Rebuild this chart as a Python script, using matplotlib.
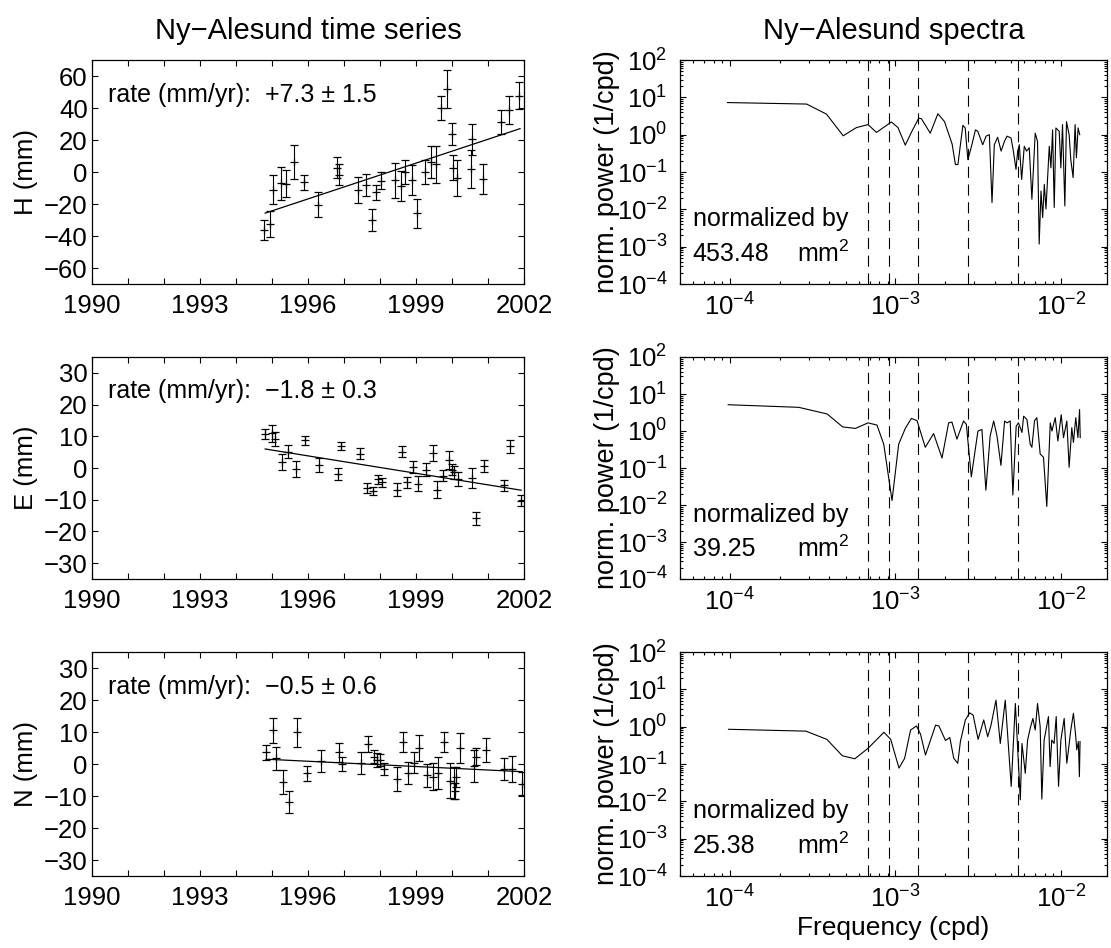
import numpy as np
import matplotlib
matplotlib.use('Agg')
import matplotlib.pyplot as plt
from matplotlib.ticker import FixedLocator, NullFormatter, LogLocator, LogFormatterSciNotation

plt.rcParams['font.family'] = ['Liberation Sans', 'DejaVu Sans']
plt.rcParams['mathtext.fontset'] = 'custom'
plt.rcParams['mathtext.rm'] = 'Liberation Sans'
plt.rcParams['mathtext.it'] = 'Liberation Sans:italic'
plt.rcParams['mathtext.bf'] = 'Liberation Sans:bold'
plt.rcParams['mathtext.default'] = 'regular'

# ---------------- time series data ----------------
H_years = [1994.79, 1994.94, 1995.04, 1995.24, 1995.39, 1995.62, 1995.90, 1996.29, 1996.80, 1996.87,
           1997.40, 1997.60, 1997.79, 1997.89, 1998.02, 1998.42, 1998.57, 1998.69, 1998.90, 1999.02,
           1999.25, 1999.42, 1999.55, 1999.69, 1999.85, 1999.99, 2000.04, 2000.13, 2000.53, 2000.56,
           2000.85, 2001.36, 2001.58, 2001.86]
H_vals = [-36.2, -32.5, -11.1, -6.9, -7.3, 6.1, -6.5, -20.5, 2.6, -1.6,
          -11.5, -7.9, -29.9, -12.7, -5.4, -5.2, -9.0, -0.2, -4.8, -25.7,
          -0.2, 6.1, 4.7, 40.3, 51.8, 24.0, 2.6, -3.7, 1.9, 20.4,
          -4.4, 31.3, 38.6, 47.6]
H_errs = [6.3, 8.4, 9.1, 10.3, 8.4, 10.5, 4.7, 7.8, 6.6, 6.8,
          8.1, 6.8, 6.7, 4.7, 5.2, 11.1, 9.4, 7.5, 9.4, 9.1,
          7.6, 10.0, 11.3, 7.5, 11.8, 6.9, 7.9, 11.3, 11.8, 9.7,
          9.4, 7.7, 8.9, 8.4]
H_trend_years = [1994.81, 2001.89]
H_trend_vals = [-25.7, 27.1]

E_years = [1994.81, 1994.99, 1995.08, 1995.29, 1995.44, 1995.66, 1995.92, 1996.31, 1996.84, 1996.92,
           1997.44, 1997.65, 1997.81, 1997.94, 1998.05, 1998.46, 1998.62, 1998.74, 1998.93, 1999.06,
           1999.28, 1999.46, 1999.59, 1999.74, 1999.92, 1999.99, 2000.06, 2000.18, 2000.56, 2000.66,
           2000.90, 2001.44, 2001.61, 2001.92]
E_vals = [10.8, 11.0, 9.1, 1.9, 5.2, -0.3, 8.7, 1.0, -1.9, 7.0,
          4.5, -6.3, -7.3, -3.5, -4.5, -6.8, 5.2, -4.5, 0.3, -5.0,
          -0.5, 4.7, -6.8, -2.4, 2.6, -0.5, -1.4, -3.5, -3.1, -15.9,
          0.7, -5.4, 6.8, -10.3]
E_errs = [1.5, 2.7, 2.1, 2.5, 2.2, 2.5, 1.3, 2.2, 2.0, 1.3,
          1.8, 1.5, 1.3, 1.4, 1.4, 2.1, 1.7, 1.8, 1.8, 2.4,
          2.1, 2.4, 2.6, 1.8, 2.8, 1.7, 2.0, 2.1, 3.1, 2.0,
          1.9, 1.7, 2.0, 1.8]
E_trend_years = [1994.81, 2001.92]
E_trend_vals = [6.0, -7.0]

N_years = [1994.83, 1995.02, 1995.11, 1995.31, 1995.47, 1995.69, 1995.98, 1996.35, 1996.87, 1996.95,
           1997.47, 1997.68, 1997.84, 1997.93, 1998.00, 1998.12, 1998.48, 1998.65, 1998.79, 1998.95,
           1999.09, 1999.31, 1999.48, 1999.62, 1999.78, 1999.94, 2000.06, 2000.08, 2000.11, 2000.22,
           2000.61, 2000.66, 2000.94, 2001.45, 2001.68, 2001.95]
N_vals = [3.6, 10.5, 1.8, -5.6, -11.8, 9.9, -2.9, 1.0, 3.6, 0.0,
          0.4, 6.2, 2.3, 1.3, 1.3, -1.6, -4.7, 6.8, -2.7, 0.4,
          4.9, -3.5, -4.0, -2.7, 6.8, -5.2, -5.8, -8.4, -4.0, 4.9,
          -0.5, 2.3, 4.4, -1.6, -1.6, -6.1]
N_errs = [2.3, 3.8, 3.6, 3.8, 3.4, 4.6, 2.4, 3.4, 2.9, 2.2,
          3.5, 2.5, 2.1, 2.2, 1.8, 1.8, 3.8, 3.2, 3.4, 3.2,
          4.1, 3.6, 4.2, 5.0, 3.1, 5.4, 5.0, 2.5, 3.1, 4.7,
          5.0, 2.6, 3.7, 3.4, 4.0, 3.7]
N_trend_years = [1994.83, 2001.95]
N_trend_vals = [1.5, -2.4]

rate_texts = ['rate (mm/yr):  +7.3 ± 1.5', 'rate (mm/yr):  −1.8 ± 0.3', 'rate (mm/yr):  −0.5 ± 0.6']
comp_labels = ['H (mm)', 'E (mm)', 'N (mm)']
year_ticks = list(range(1990, 2003))
year_labels = [str(y) if (y - 1990) % 3 == 0 else '' for y in year_ticks]

# ---------------- spectra (log10 frequency [cpd], log10 normalized power) ----------------
H_spec_logf = [-4.014, -3.536, -3.416, -3.315, -3.235, -3.165, -3.114, -3.024, -2.984, -2.940,
               -2.900, -2.859, -2.843, -2.789, -2.743, -2.703, -2.657, -2.637, -2.622, -2.592,
               -2.578, -2.562, -2.542, -2.516, -2.502, -2.472, -2.452, -2.432, -2.416, -2.402,
               -2.382, -2.361, -2.341, -2.325, -2.301, -2.287, -2.271, -2.261, -2.251, -2.237,
               -2.221, -2.207, -2.191, -2.175, -2.155, -2.141, -2.131, -2.120, -2.110, -2.100,
               -2.090, -2.070, -2.060, -2.050, -2.040, -2.030, -2.010, -2.000, -1.990, -1.976,
               -1.966, -1.950, -1.940, -1.926, -1.914, -1.906, -1.896, -1.886]
H_spec_logp = [0.86, 0.82, 0.55, -0.03, 0.19, 0.27, 0.06, 0.34, 0.19, -0.28,
               0.09, 0.44, 0.43, 0.04, 0.56, 0.35, -0.25, -0.80, -0.80, 0.25,
               0.18, -0.67, -0.35, 0.13, 0.09, -0.27, -0.04, 0.00, -1.82, -0.27,
               -0.07, -0.44, -0.18, -0.04, -0.09, -0.44, -0.93, -0.44, -0.27, -1.20,
               -0.31, -0.44, -0.35, -1.73, 0.04, -0.18, -2.93, -1.51, -2.22, -1.33,
               -1.99, -0.31, -0.89, 0.13, -1.95, 0.18, 0.09, -0.89, 0.27, -1.91,
               0.35, 0.00, -0.67, -1.15, 0.27, -0.62, 0.18, 0.00]

E_spec_logf = [-4.010, -3.584, -3.412, -3.318, -3.241, -3.165, -3.111, -3.070, -3.020, -2.980,
               -2.940, -2.903, -2.869, -2.819, -2.769, -2.718, -2.678, -2.658, -2.628, -2.588,
               -2.571, -2.541, -2.501, -2.477, -2.453, -2.427, -2.406, -2.386, -2.362, -2.340,
               -2.326, -2.306, -2.290, -2.270, -2.256, -2.235, -2.225, -2.205, -2.185, -2.175,
               -2.159, -2.145, -2.125, -2.105, -2.085, -2.064, -2.054, -2.034, -2.018, -1.998,
               -1.984, -1.964, -1.950, -1.934, -1.924, -1.910, -1.897, -1.887, -1.883]
E_spec_logp = [0.71, 0.64, 0.46, 0.11, 0.07, 0.22, 0.16, -0.36, -1.88, -0.36,
               0.07, 0.34, 0.28, -0.44, -0.07, -0.73, 0.22, 0.24, -0.22, 0.27,
               0.18, -1.24, 0.00, 0.04, -1.60, -0.13, 0.27, -0.13, -0.93, 0.27,
               0.22, 0.27, -1.73, 0.13, 0.22, -0.04, 0.40, 0.31, -0.36, -0.44,
               0.28, 0.36, -0.62, -0.71, -2.04, 0.22, 0.00, 0.36, -0.27, 0.44,
               -0.18, 0.27, -0.98, 0.09, -0.31, 0.36, -0.18, 0.58, -0.18]

N_spec_logf = [-4.008, -3.540, -3.414, -3.320, -3.245, -3.165, -3.069, -3.028, -2.978, -2.944,
               -2.908, -2.872, -2.848, -2.818, -2.757, -2.737, -2.697, -2.671, -2.647, -2.623,
               -2.607, -2.577, -2.551, -2.530, -2.500, -2.466, -2.442, -2.422, -2.392, -2.366,
               -2.336, -2.300, -2.275, -2.245, -2.235, -2.215, -2.201, -2.185, -2.169, -2.155,
               -2.141, -2.125, -2.115, -2.101, -2.075, -2.065, -2.055, -2.041, -2.028, -2.014,
               -2.000, -1.980, -1.964, -1.954, -1.940, -1.924, -1.910, -1.904, -1.894, -1.888,
               -1.884]
N_spec_logp = [-0.07, -0.12, -0.34, -0.78, -0.86, -0.58, -0.15, -0.34, -1.11, -0.85,
               -0.09, 0.02, -0.20, -0.76, 0.04, 0.02, -0.37, -0.29, -0.85, -0.98,
               -0.40, 0.18, 0.37, 0.31, -0.34, 0.18, -0.27, 0.04, 0.71, -0.45,
               0.71, -1.60, 0.62, -1.96, -0.45, -1.25, -0.36, -0.04, 0.22, -0.09,
               0.62, 0.00, -1.94, -0.36, 0.27, -1.07, -0.36, -0.45, 0.27, -1.60,
               -0.36, 0.22, -0.98, -0.62, -0.09, 0.36, -0.27, -0.62, -0.40, -1.34,
               -0.40]

norm_values = ['453.48', '39.25', '25.38']
marker_periods_yr = [4, 3, 2, 1, 0.5]   # dashed reference lines (periods in years)
days_per_year = 365.25

# ---------------- figure ----------------
W, Hh = 1111, 948
fig = plt.figure(figsize=(W / 100, Hh / 100), dpi=100)

def fx(px):
    return px / W

def fy(py):
    return 1 - py / Hh

rows = [(60, 284), (357, 579), (652, 876)]
left_x = (92, 524)
right_x = (680, 1107)

FS = 18
series = [(H_years, H_vals, H_errs, H_trend_years, H_trend_vals, (-70, 70), list(range(-60, 61, 20))),
          (E_years, E_vals, E_errs, E_trend_years, E_trend_vals, (-35, 35), list(range(-30, 31, 10))),
          (N_years, N_vals, N_errs, N_trend_years, N_trend_vals, (-35, 35), list(range(-30, 31, 10)))]
spectra = [(H_spec_logf, H_spec_logp), (E_spec_logf, E_spec_logp), (N_spec_logf, N_spec_logp)]

for i, (top, bot) in enumerate(rows):
    # ----- time series -----
    ax = fig.add_axes([fx(left_x[0]), fy(bot), fx(left_x[1] - left_x[0]), (bot - top) / Hh])
    yrs, vals, errs, tyr, tval, ylim, yt = series[i]
    ax.errorbar(yrs, vals, yerr=errs, fmt='+', color='k', ms=6, mew=0.9,
                elinewidth=0.8, capsize=3.0, capthick=0.8)
    ax.plot(tyr, tval, color='k', lw=0.9)
    ax.set_xlim(1990, 2002)
    ax.set_ylim(*ylim)
    ax.set_xticks(year_ticks)
    ax.set_xticklabels(year_labels)
    ax.set_yticks(yt)
    ax.tick_params(direction='in', top=True, right=True, length=4, width=0.8,
                   labelsize=FS + 0.5)
    ax.tick_params(axis='x', pad=7)
    ax.tick_params(axis='y', pad=3)
    for s in ax.spines.values():
        s.set_linewidth(0.9)
    ax.set_ylabel(comp_labels[i], fontsize=FS + 0.5)
    ax.yaxis.set_label_coords(-0.125, 0.5)
    ax.text(0.037, 0.845, rate_texts[i], transform=ax.transAxes, fontsize=FS,
            ha='left', va='center')
    if i == 0:
        ax.set_title('Ny−Alesund time series', fontsize=21, pad=15)

    # ----- spectra -----
    ax2 = fig.add_axes([fx(right_x[0]), fy(bot), fx(right_x[1] - right_x[0]), (bot - top) / Hh])
    lf, lp = spectra[i]
    ax2.loglog(10 ** np.array(lf), 10 ** np.array(lp), color='k', lw=0.8)
    for p in marker_periods_yr:
        ax2.axvline(1.0 / (p * days_per_year), color='k', lw=0.8, linestyle=(0, (10, 6)))
    ax2.set_xlim(5e-5, 1.9e-2)
    ax2.set_ylim(1e-4, 1e2)
    ax2.xaxis.set_major_locator(FixedLocator([1e-4, 1e-3, 1e-2]))
    ax2.xaxis.set_minor_locator(LogLocator(base=10, subs=np.arange(2, 10), numticks=20))
    ax2.yaxis.set_major_locator(FixedLocator([10.0 ** k for k in range(-4, 3)]))
    ax2.yaxis.set_minor_locator(LogLocator(base=10, subs=np.arange(2, 10), numticks=20))
    ax2.xaxis.set_minor_formatter(NullFormatter())
    ax2.yaxis.set_minor_formatter(NullFormatter())
    ax2.xaxis.set_major_formatter(LogFormatterSciNotation())
    ax2.yaxis.set_major_formatter(LogFormatterSciNotation())
    ax2.tick_params(which='both', direction='in', top=True, right=True, width=0.8,
                    labelsize=FS + 0.5)
    ax2.tick_params(which='major', length=4)
    ax2.tick_params(which='minor', length=2)
    ax2.tick_params(axis='x', pad=7)
    ax2.tick_params(axis='y', pad=9)
    for s in ax2.spines.values():
        s.set_linewidth(0.9)
    ax2.set_ylabel('norm. power (1/cpd)', fontsize=FS + 1.5)
    ax2.yaxis.set_label_coords(-0.14, 0.5)
    ax2.text(0.03, 0.29, 'normalized by', transform=ax2.transAxes, fontsize=FS,
             ha='left', va='center')
    ax2.text(0.03, 0.135, norm_values[i], transform=ax2.transAxes, fontsize=FS,
             ha='left', va='center')
    ax2.text(0.275, 0.135, 'mm$^2$', transform=ax2.transAxes, fontsize=FS,
             ha='left', va='center')
    if i == 0:
        ax2.set_title('Ny−Alesund spectra', fontsize=21, pad=15)
    if i == 2:
        ax2.set_xlabel('Frequency (cpd)', fontsize=FS + 1, labelpad=2)

fig.savefig('out.png', dpi=100)
